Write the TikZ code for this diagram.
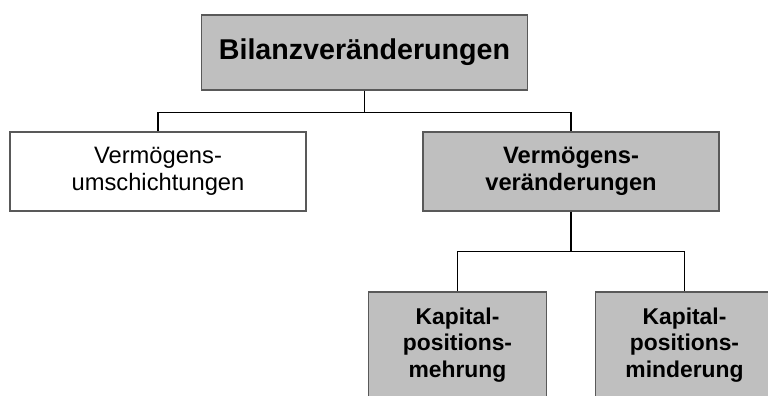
\documentclass[tikz,border=0pt]{standalone}
\usepackage{fontspec}
\setmainfont{Liberation Sans}

\begin{document}
\begin{tikzpicture}[box/.style={rectangle, draw=black!65, line width=0.6pt, align=center, inner sep=0pt},
  greybox/.style={box, fill=black!25},
  level 1/.style={sibling distance=82.6mm, level distance=23.8mm,
    edge from parent path={(\tikzparentnode.south) -- +(0,-4.4mm) -| (\tikzchildnode.north)}},
  level 2/.style={sibling distance=45.4mm, level distance=34.7mm,
    edge from parent path={(\tikzparentnode.south) -- +(0,-8mm) -| (\tikzchildnode.north)}},
  edge from parent/.style={draw, black, line width=1.1pt}]
\useasboundingbox (0,0) rectangle (15.36,7.92);
\node [greybox, minimum width=65.2mm, minimum height=15mm, font=\bfseries\fontsize{16.3}{19}\selectfont] (bilanz) at (7.29,6.87) {Bilanzveränderungen}
  child{node[box, fill=white, minimum width=59.2mm, minimum height=15.8mm, font=\fontsize{13.5}{15.5}\selectfont] (umschicht) {Vermögens-\\umschichtungen}}
  child{node[greybox, minimum width=59.2mm, minimum height=15.8mm, font=\bfseries\fontsize{13.5}{15.5}\selectfont] (veraend) {Vermögens-\\veränderungen}
    child{node[greybox, minimum width=35.6mm, minimum height=21.2mm, font=\bfseries\fontsize{13}{15.2}\selectfont] (mehrung) {Kapital-\\positions-\\mehrung}}
    child{node[greybox, minimum width=35.6mm, minimum height=21.2mm, font=\bfseries\fontsize{13}{15.2}\selectfont] (minderung) {Kapital-\\positions-\\minderung}}
};
\end{tikzpicture}
\end{document}
